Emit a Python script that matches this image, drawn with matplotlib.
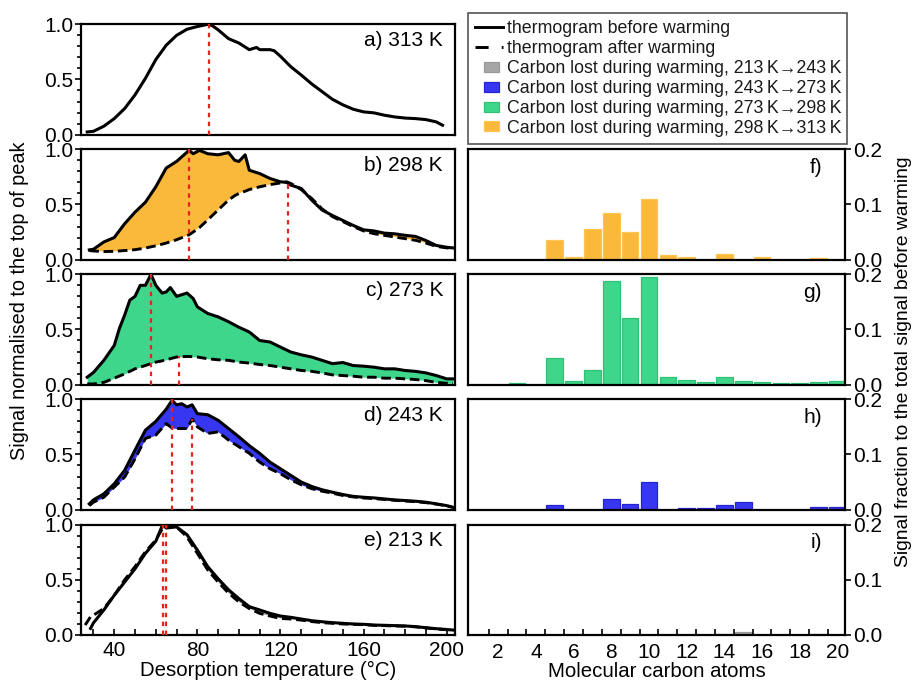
import numpy as np
import matplotlib
matplotlib.use("Agg")
import matplotlib.pyplot as plt
import matplotlib.patches as mpatches
from matplotlib.lines import Line2D
from matplotlib.legend_handler import HandlerPatch
from matplotlib.ticker import MultipleLocator, FixedLocator

plt.rcParams["font.family"] = ["Liberation Sans", "DejaVu Sans"]
plt.rcParams["font.size"] = 14

# ── Thermogram data ───────────────────────────────────────────────────────────
T_A = [27, 30, 35, 40, 45, 50, 55, 60, 65, 70, 75, 80, 85, 87, 90, 95, 100, 105,
       108.5, 110, 115, 117, 120, 125, 130, 135, 140, 145, 150, 155, 160, 165,
       170, 175, 180, 185, 190, 195, 198]
A_BEFORE = [0.024, 0.03, 0.076, 0.145, 0.236, 0.36, 0.51, 0.68, 0.81, 0.90, 0.955,
            0.98, 1.0, 0.99, 0.95, 0.87, 0.83, 0.77, 0.79, 0.77, 0.77, 0.76, 0.71,
            0.615, 0.54, 0.46, 0.39, 0.32, 0.27, 0.23, 0.206, 0.197, 0.176, 0.16,
            0.15, 0.145, 0.136, 0.115, 0.085]

T_B = [28, 30, 35, 40, 45, 50, 55, 60, 65, 70, 76, 78, 81, 85, 90, 95, 98, 100,
       103, 105, 110, 115, 120, 123, 125, 130, 135, 140, 145, 150, 155, 160, 165,
       170, 175, 180, 185, 190, 195, 200, 203]
B_BEFORE = [0.088, 0.094, 0.16, 0.20, 0.325, 0.43, 0.52, 0.66, 0.83, 0.89, 0.99,
            0.96, 0.99, 0.96, 0.95, 0.97, 0.90, 0.89, 0.95, 0.81, 0.78, 0.735,
            0.705, 0.70, 0.675, 0.645, 0.54, 0.45, 0.40, 0.355, 0.31, 0.27, 0.26,
            0.24, 0.234, 0.22, 0.21, 0.173, 0.128, 0.112, 0.106]
B_AFTER = [0.082, 0.078, 0.073, 0.075, 0.082, 0.09, 0.105, 0.125, 0.15, 0.18,
           0.225, 0.25, 0.29, 0.36, 0.45, 0.54, 0.58, 0.60, 0.62, 0.635, 0.66,
           0.68, 0.695, 0.705, 0.69, 0.635, 0.555, 0.46, 0.39, 0.345, 0.30, 0.26,
           0.235, 0.22, 0.205, 0.19, 0.175, 0.15, 0.12, 0.106, 0.106]

T_C = [27, 30, 35, 40, 42.5, 45, 47.5, 50, 52.5, 55, 57.7, 60, 63, 65, 67, 70, 75,
       78, 80, 85, 90, 95, 100, 105, 110, 115, 120, 125, 130, 135, 140, 145, 150,
       155, 160, 165, 170, 175, 180, 185, 190, 195, 200, 203]
C_BEFORE = [0.067, 0.11, 0.22, 0.355, 0.51, 0.63, 0.766, 0.80, 0.90, 0.90, 1.0,
            0.90, 0.83, 0.84, 0.88, 0.80, 0.83, 0.78, 0.705, 0.645, 0.614, 0.57,
            0.52, 0.477, 0.40, 0.386, 0.34, 0.295, 0.27, 0.25, 0.22, 0.19, 0.2,
            0.173, 0.167, 0.158, 0.143, 0.143, 0.128, 0.12, 0.106, 0.082, 0.052,
            0.052]
C_AFTER = [0.006, 0.006, 0.02, 0.058, 0.078, 0.097, 0.12, 0.143, 0.158, 0.173,
           0.19, 0.204, 0.215, 0.225, 0.235, 0.25, 0.255, 0.253, 0.25, 0.234,
           0.225, 0.22, 0.204, 0.195, 0.182, 0.173, 0.158, 0.143, 0.128, 0.12,
           0.106, 0.088, 0.082, 0.076, 0.067, 0.067, 0.058, 0.058, 0.052, 0.046,
           0.036, 0.02, 0.012, 0.012]

T_D = [28, 30, 35, 40, 45, 50, 55, 60, 65, 67.8, 70, 72.5, 75, 77.5, 80, 85, 90,
       95, 100, 105, 110, 115, 120, 125, 130, 135, 140, 145, 150, 155, 160, 165,
       170, 175, 180, 185, 190, 195, 200, 203]
D_BEFORE = [0.052, 0.088, 0.143, 0.234, 0.356, 0.54, 0.72, 0.80, 0.91, 0.99, 0.95,
            0.96, 0.93, 0.95, 0.87, 0.86, 0.81, 0.735, 0.66, 0.58, 0.51, 0.43,
            0.37, 0.31, 0.25, 0.21, 0.18, 0.158, 0.137, 0.12, 0.112, 0.106, 0.097,
            0.088, 0.082, 0.076, 0.067, 0.052, 0.036, 0.021]
D_AFTER = [0.036, 0.067, 0.112, 0.204, 0.295, 0.46, 0.645, 0.675, 0.78, 0.74,
           0.735, 0.735, 0.735, 0.82, 0.75, 0.69, 0.705, 0.63, 0.57, 0.51, 0.43,
           0.37, 0.325, 0.27, 0.225, 0.19, 0.167, 0.149, 0.128, 0.115, 0.105, 0.10,
           0.092, 0.084, 0.078, 0.072, 0.063, 0.05, 0.034, 0.02]

T_E = [26, 28.6, 30, 35, 40, 45, 50, 55, 60, 63.3, 65, 70, 75, 80, 85, 90, 95,
       100, 105, 110, 115, 120, 125, 130, 135, 140, 145, 150, 155, 160, 165, 170,
       175, 180, 185, 190, 195, 200, 203]
E_BEFORE = [np.nan, 0.06, 0.11, 0.227, 0.36, 0.48, 0.60, 0.74, 0.85, 1.0, 0.97,
            0.98, 0.91, 0.77, 0.62, 0.51, 0.41, 0.33, 0.257, 0.227, 0.196, 0.172,
            0.16, 0.145, 0.13, 0.12, 0.112, 0.106, 0.10, 0.097, 0.09, 0.088,
            0.085, 0.082, 0.076, 0.066, 0.057, 0.05, 0.045]
E_AFTER = [0.09, 0.166, 0.18, 0.24, 0.36, 0.50, 0.62, 0.755, 0.86, 0.97, 1.0, 0.98,
           0.89, 0.74, 0.59, 0.48, 0.38, 0.30, 0.24, 0.196, 0.172, 0.15, 0.145,
           0.135, 0.122, 0.112, 0.106, 0.10, 0.097, 0.094, 0.088, 0.085, 0.082,
           0.08, 0.074, 0.064, 0.055, 0.048, 0.045]

# peak markers (temperature, height)
PEAK_T = [[85.8], [76.0, 123.4], [57.7, 71.4], [67.8, 77.6], [63.3, 65.0]]
PEAK_H = [[1.0], [1.0, 0.70], [1.0, 0.26], [1.0, 0.82], [1.0, 1.0]]

PANEL_TEXT = ["a) 313 K", "b) 298 K", "c) 273 K", "d) 243 K", "e) 213 K"]

# ── Carbon-number distributions of lost signal ────────────────────────────────
C_ATOMS = list(range(1, 21))
LOST_298_313 = [0, 0, 0, 0, 0.036, 0.004, 0.056, 0.084, 0.050, 0.110, 0.008,
                0.004, 0, 0.010, 0, 0.004, 0, 0, 0.002, 0]
LOST_273_298 = [0, 0, 0.002, 0, 0.048, 0.006, 0.027, 0.188, 0.120, 0.195, 0.014,
                0.009, 0.004, 0.014, 0.006, 0.004, 0.002, 0.002, 0.004, 0.006]
LOST_243_273 = [0, 0, 0, 0, 0.0085, 0, 0, 0.019, 0.010, 0.050, 0, 0.002, 0.002,
                0.0085, 0.0145, 0, 0, 0, 0.005, 0.005]
LOST_213_243 = [0, 0, 0, 0, 0, 0, 0, 0, 0, 0, 0, 0, 0, 0.002, 0.006, 0, 0, 0,
                0.002, 0]

LEGEND_LABELS = ["thermogram before warming", "thermogram after warming",
                 "Carbon lost during warming, 213\u2009K\u2192243\u2009K",
                 "Carbon lost during warming, 243\u2009K\u2192273\u2009K",
                 "Carbon lost during warming, 273\u2009K\u2192298\u2009K",
                 "Carbon lost during warming, 298\u2009K\u2192313\u2009K"]

# ── Styles ────────────────────────────────────────────────────────────────────
GREY = "#A6A6A6"
BLUE = "#3737F2"
GREEN = "#3DD68A"
ORANGE = "#FBB93C"
EDGES = {GREY: "#999999", BLUE: "#2424D0", GREEN: "#2FC277", ORANGE: "#FFC64F"}
RED = "#E3231C"
DASH = (0, (3.3, 1.6))
TICK_FS = 15
W, H = 914, 681

fig = plt.figure(figsize=(W / 100, H / 100), dpi=100)

ROW_TOP = [24.3, 149.3, 274.3, 399.3, 524.7]
ROW_H = 110.3


def axes_px(x0, x1, top):
    return fig.add_axes([x0 / W, 1 - (top + ROW_H) / H, (x1 - x0) / W, ROW_H / H])


def frame(ax):
    for sp in ax.spines.values():
        sp.set_linewidth(1.6)
        sp.set_color("black")


left_data = [(T_A, A_BEFORE, None, None), (T_B, B_BEFORE, B_AFTER, ORANGE),
             (T_C, C_BEFORE, C_AFTER, GREEN), (T_D, D_BEFORE, D_AFTER, BLUE),
             (T_E, E_BEFORE, E_AFTER, GREY)]

for i, (t, before, after, col) in enumerate(left_data):
    ax = axes_px(81, 455, ROW_TOP[i])
    frame(ax)
    t = np.array(t); before = np.array(before, dtype=float)
    if after is not None:
        after = np.array(after, dtype=float)
        ax.fill_between(t, after, before, where=before >= after, interpolate=True,
                        color=col, lw=0, zorder=1)
        ax.plot(t, after, color="black", lw=2.1, linestyle=DASH, zorder=3)
    ax.plot(t, before, color="black", lw=2.2, zorder=3, solid_joinstyle="round")
    ax.vlines(PEAK_T[i], 0, PEAK_H[i], colors=RED, lw=1.6, linestyles=(0, (2, 2)),
              zorder=4)
    ax.set_xlim(24, 204)
    ax.set_ylim(0, 1.0)
    ax.yaxis.set_major_locator(FixedLocator([0, 0.5, 1.0]))
    ax.yaxis.set_minor_locator(MultipleLocator(0.1))
    ax.set_yticklabels(["0.0", "0.5", "1.0"])
    ax.tick_params(axis="y", which="major", direction="out", length=4, width=1.2,
                   pad=1.5, labelsize=TICK_FS)
    ax.tick_params(axis="y", which="minor", direction="out", length=3, width=1.2)
    ax.text(0.968, 0.855, PANEL_TEXT[i], transform=ax.transAxes, ha="right",
            va="center", fontsize=15)
    if i == 4:
        ax.xaxis.set_major_locator(FixedLocator([40, 80, 120, 160, 200]))
        ax.xaxis.set_minor_locator(MultipleLocator(10))
        ax.tick_params(axis="x", which="both", direction="in", length=4, width=1.2,
                       labelsize=TICK_FS, pad=4)
        ax.set_xlabel("Desorption temperature (\u00b0C)", fontsize=14.7,
                      labelpad=1)
    else:
        ax.set_xticks([])

right_data = [(LOST_298_313, ORANGE, "f)"), (LOST_273_298, GREEN, "g)"),
              (LOST_243_273, BLUE, "h)"), (LOST_213_243, GREY, "i)")]

for j, (vals, col, lab) in enumerate(right_data):
    ax = axes_px(468, 845, ROW_TOP[j + 1])
    frame(ax)
    xs = [c for c, v in zip(C_ATOMS, vals) if v > 0]
    ys = [v for v in vals if v > 0]
    ax.bar(xs, ys, width=0.88, color=col, edgecolor=EDGES[col], linewidth=0.9)
    ax.set_xlim(0.4, 20.4)
    ax.set_ylim(0, 0.2)
    ax.yaxis.tick_right()
    ax.set_yticks([0, 0.1, 0.2])
    ax.set_yticklabels(["0.0", "0.1", "0.2"])
    ax.tick_params(axis="y", direction="out", length=4, width=1.2, pad=1.5,
                   labelsize=TICK_FS)
    ax.text(0.939, 0.835, lab, transform=ax.transAxes, ha="right", va="center",
            fontsize=15)
    if j == 3:
        ax.xaxis.set_major_locator(FixedLocator(list(range(2, 21, 2))))
        ax.xaxis.set_minor_locator(FixedLocator([k + 0.5 for k in range(1, 20)]))
        ax.tick_params(axis="x", which="major", length=0, labelsize=TICK_FS, pad=5.5)
        ax.tick_params(axis="x", which="minor", direction="in", length=4, width=1.2)
        ax.set_xlabel("Molecular carbon atoms", fontsize=14.7, labelpad=0)
    else:
        ax.set_xticks([])

fig.text(20 / W, 1 - 301 / H, "Signal normalised to the top of peak", rotation=90,
         ha="center", va="center", fontsize=14.3)
fig.text(903 / W, 1 - 362 / H, "Signal fraction to the total signal before warming",
         rotation=90, ha="center", va="center", fontsize=13.9)


# ── Legend ────────────────────────────────────────────────────────────────────
def small_rect(legend, orig_handle, xdescent, ydescent, width, height, fontsize):
    return mpatches.Rectangle((width * 0.3 - xdescent, -ydescent + height * 0.1),
                              width * 0.55, height * 0.8)


handles = [Line2D([], [], color="black", lw=2.1),
           Line2D([], [], color="black", lw=2.1, linestyle=(0, (4.5, 4.5)))]
for col in [GREY, BLUE, GREEN, ORANGE]:
    handles.append(mpatches.Patch(facecolor=col, edgecolor=EDGES[col], lw=0.9))

leg = fig.legend(handles, LEGEND_LABELS, loc="upper left",
                 bbox_to_anchor=(468 / W, 1 - 13 / H, 379 / W, 0), mode="expand",
                 borderaxespad=0, fancybox=False, framealpha=1, edgecolor="#555555",
                 fontsize=12.8, handlelength=1.55, handletextpad=0.2,
                 labelspacing=0.16, borderpad=0.42,
                 handler_map={mpatches.Patch: HandlerPatch(patch_func=small_rect)})
leg.get_frame().set_linewidth(1.2)
for txt in leg.get_texts():
    txt.set_color("#1a1a1a")

fig.savefig("out.png", dpi=100)
